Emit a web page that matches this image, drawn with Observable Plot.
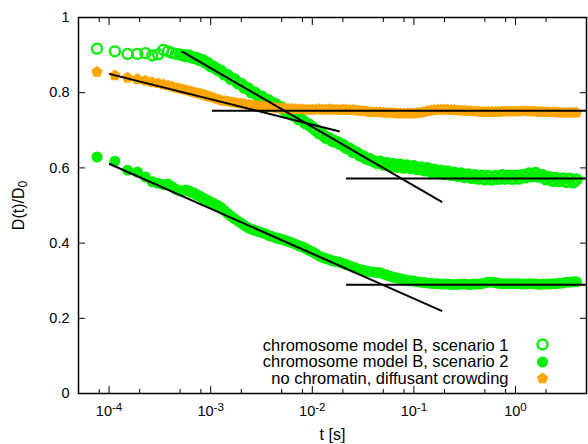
<!DOCTYPE html>
<html><head><meta charset="utf-8">
<script src="https://cdn.jsdelivr.net/npm/d3@7"></script>
<script src="https://cdn.jsdelivr.net/npm/@observablehq/plot@0.6"></script>
<style>body{margin:0;background:#fff}</style>
</head><body><div id="chart"></div>
<script>
// sample times [s]
const T = [
 7.6e-5, 1.14e-4, 1.52e-4, 1.9e-4, 2.28e-4, 2.66e-4, 3.04e-4, 3.42e-4, 3.8e-4, 4.18e-4, 4.56e-4, 4.94e-4,
 5.32e-4, 5.7e-4, 6.08e-4, 6.46e-4, 6.84e-4, 7.22e-4, 7.6e-4, 7.98e-4, 8.36e-4, 8.74e-4, 9.12e-4, 9.5e-4,
 1e-3, 1.08e-3, 1.17e-3, 1.26e-3, 1.36e-3, 1.47e-3, 1.58e-3, 1.71e-3, 1.85e-3, 2e-3, 2.15e-3, 2.33e-3, 2.51e-3, 2.71e-3, 2.93e-3,
 3.16e-3, 3.42e-3, 3.69e-3, 3.98e-3, 4.3e-3, 4.64e-3, 5.01e-3, 5.41e-3, 5.84e-3, 6.31e-3, 6.81e-3, 7.36e-3, 7.94e-3, 8.58e-3, 9.26e-3,
 0.01, 0.0108, 0.0117, 0.0126, 0.0136, 0.0147, 0.0158, 0.0171, 0.0185, 0.02, 0.0215, 0.0233, 0.0251, 0.0271, 0.0293,
 0.0316, 0.0342, 0.0369, 0.0398, 0.043, 0.0464, 0.0501, 0.0541, 0.0584, 0.0631, 0.0681, 0.0736, 0.0794, 0.0858, 0.0926,
 0.1, 0.108, 0.117, 0.126, 0.136, 0.147, 0.158, 0.171, 0.185, 0.2, 0.215, 0.233, 0.251, 0.271, 0.293,
 0.316, 0.342, 0.369, 0.398, 0.43, 0.464, 0.501, 0.541, 0.584, 0.631, 0.681, 0.736, 0.794, 0.858, 0.926,
 1, 1.08, 1.17, 1.26, 1.36, 1.47, 1.58, 1.71, 1.85, 2, 2.15, 2.33, 2.51, 2.71, 2.93, 3.16, 3.42, 3.69, 3.98
];
// chromosome model B, scenario 1 (open circles)
const scenario1 = [
 0.917, 0.910, 0.903, 0.903, 0.905, 0.899, 0.902, 0.914, 0.910, 0.906, 0.903, 0.902,
 0.900, 0.898, 0.899, 0.895, 0.893, 0.892, 0.889, 0.887, 0.886, 0.882, 0.880, 0.877,
 0.871, 0.868, 0.861, 0.858, 0.849, 0.846, 0.837, 0.835, 0.826, 0.823, 0.814, 0.811, 0.802, 0.800, 0.792,
 0.790, 0.782, 0.780, 0.773, 0.770, 0.763, 0.760, 0.753, 0.750, 0.742, 0.738, 0.730, 0.727, 0.719, 0.715,
 0.708, 0.701, 0.693, 0.689, 0.681, 0.678, 0.672, 0.670, 0.665, 0.661, 0.654, 0.651, 0.643, 0.641, 0.634,
 0.631, 0.625, 0.623, 0.618, 0.614, 0.616, 0.609, 0.613, 0.605, 0.610, 0.603, 0.608, 0.601, 0.606, 0.600,
 0.604, 0.597, 0.601, 0.594, 0.599, 0.590, 0.595, 0.587, 0.592, 0.584, 0.590, 0.582, 0.587, 0.579, 0.585,
 0.576, 0.582, 0.574, 0.580, 0.572, 0.579, 0.570, 0.578, 0.569, 0.578, 0.571, 0.580, 0.572, 0.579, 0.571,
 0.579, 0.572, 0.581, 0.575, 0.585, 0.578, 0.586, 0.577, 0.580, 0.570, 0.575, 0.566, 0.573, 0.565, 0.572, 0.563, 0.571, 0.562, 0.569
];
// chromosome model B, scenario 2 (filled circles)
const scenario2 = [
 0.629, 0.618, 0.594, 0.589, 0.576, 0.563, 0.559, 0.556, 0.557, 0.550, 0.543, 0.539,
 0.539, 0.541, 0.539, 0.535, 0.533, 0.529, 0.526, 0.523, 0.520, 0.517, 0.515, 0.512,
 0.509, 0.505, 0.500, 0.495, 0.487, 0.479, 0.472, 0.465, 0.459, 0.453, 0.447, 0.441, 0.437, 0.434, 0.431,
 0.428, 0.425, 0.421, 0.418, 0.415, 0.412, 0.410, 0.407, 0.404, 0.401, 0.397, 0.393, 0.390, 0.386, 0.381,
 0.377, 0.372, 0.366, 0.362, 0.359, 0.356, 0.353, 0.351, 0.349, 0.346, 0.343, 0.340, 0.336, 0.333, 0.330,
 0.328, 0.326, 0.324, 0.323, 0.322, 0.321, 0.318, 0.315, 0.312, 0.309, 0.307, 0.305, 0.303, 0.301, 0.300,
 0.299, 0.297, 0.296, 0.295, 0.294, 0.293, 0.292, 0.292, 0.291, 0.291, 0.291, 0.290, 0.290, 0.290, 0.291,
 0.291, 0.290, 0.290, 0.291, 0.291, 0.292, 0.294, 0.296, 0.296, 0.295, 0.293, 0.292, 0.292, 0.292, 0.292,
 0.292, 0.292, 0.291, 0.291, 0.292, 0.292, 0.291, 0.290, 0.291, 0.291, 0.291, 0.292, 0.292, 0.293, 0.294, 0.296, 0.296, 0.297, 0.297
];
// no chromatin, diffusant crowding (pentagons)
const crowding = [
 0.855, 0.846, 0.840, 0.836, 0.832, 0.828, 0.825, 0.822, 0.819, 0.816, 0.813, 0.811,
 0.809, 0.807, 0.805, 0.803, 0.801, 0.799, 0.798, 0.797, 0.795, 0.794, 0.792, 0.790,
 0.789, 0.786, 0.783, 0.780, 0.778, 0.777, 0.775, 0.774, 0.772, 0.771, 0.770, 0.768, 0.767, 0.766, 0.765,
 0.764, 0.763, 0.762, 0.761, 0.760, 0.759, 0.758, 0.758, 0.757, 0.757, 0.756, 0.756, 0.756, 0.755, 0.755,
 0.755, 0.755, 0.756, 0.755, 0.755, 0.756, 0.755, 0.755, 0.754, 0.755, 0.755, 0.754, 0.754, 0.753, 0.752,
 0.751, 0.750, 0.749, 0.748, 0.748, 0.748, 0.747, 0.747, 0.746, 0.746, 0.745, 0.745, 0.745, 0.745, 0.745,
 0.745, 0.746, 0.747, 0.749, 0.751, 0.753, 0.754, 0.755, 0.755, 0.755, 0.755, 0.754, 0.754, 0.753, 0.752,
 0.752, 0.751, 0.751, 0.750, 0.750, 0.749, 0.749, 0.749, 0.749, 0.749, 0.749, 0.750, 0.750, 0.750, 0.750,
 0.750, 0.750, 0.751, 0.751, 0.750, 0.750, 0.750, 0.749, 0.749, 0.749, 0.748, 0.748, 0.748, 0.747, 0.747, 0.747, 0.747, 0.747, 0.747
];
// power-law and plateau fit lines
const fitT1 = [5.2e-4, 0.0215, 1e-4, 1.03e-3, 1e-4, 0.0215];
const fitD1 = [0.910, 0.572, 0.850, 0.752, 0.611, 0.289];
const fitT2 = [0.19, 5, 0.0186, 5, 0.19, 5];
const fitD2 = [0.509, 0.572, 0.697, 0.752, 0.219, 0.289];

const seriesNames = ["chromosome model B, scenario 1", "chromosome model B, scenario 2", "no chromatin, diffusant crowding"];
const xMajor = [1e-4, 1e-3, 1e-2, 1e-1, 1];
const xMinor = [8e-5, 2e-4, 5e-4, 8e-4, 2e-3, 5e-3, 8e-3, 2e-2, 5e-2, 8e-2, 0.2, 0.5, 0.8, 2];
const yTicks = [0, 0.2, 0.4, 0.6, 0.8, 1];

const GREEN = "#00ee00", ORANGE = "#ffa500";
const rows = T.map((t, i) => ({t, s1: scenario1[i], s2: scenario2[i], c: crowding[i], dense: t > 5e-4}));
const fits = fitT1.map((t, i) => ({t1: t, d1: fitD1[i], t2: fitT2[i], d2: fitD2[i]}));

const pentagon = {draw(ctx, size) {
  const r = Math.sqrt(size / Math.PI);
  for (let i = 0; i < 5; i++) {
    const a = -Math.PI / 2 + i * 2 * Math.PI / 5;
    const px = r * Math.cos(a), py = r * Math.sin(a);
    if (i) ctx.lineTo(px, py); else ctx.moveTo(px, py);
  }
  ctx.closePath();
}};

const legendRow = (i, dy) => Plot.text([seriesNames[i]], {text: d => d, frameAnchor: "bottom-right", lineAnchor: "middle", dx: -78, dy, textAnchor: "end", fontSize: 16.5, fill: "black"});

const chart = Plot.plot({
  width: 588, height: 444,
  marginLeft: 78, marginRight: 2, marginTop: 17, marginBottom: 51,
  style: {fontFamily: "'Liberation Sans', Arial, Helvetica, sans-serif", fontSize: "14.5px", background: "#fff", color: "#000"},
  x: {type: "log", domain: [5e-5, 5]},
  y: {domain: [0, 1]},
  marks: [
    Plot.dot(rows, {filter: d => !d.dense, x: "t", y: "s1", r: 5, fill: "none", stroke: GREEN, strokeWidth: 2.3}),
    Plot.dot(rows, {filter: d => d.dense, x: "t", y: "s1", r: 4.6, fill: "none", stroke: GREEN, strokeWidth: 3.4}),
    Plot.dot(rows, {x: "t", y: "s2", r: 5.5, fill: GREEN}),
    Plot.dot(rows, {x: "t", y: "c", r: 5.9, fill: ORANGE, symbol: pentagon}),
    Plot.link(fits, {x1: "t1", y1: "d1", x2: "t2", y2: "d2", stroke: "black", strokeWidth: 2}),
    Plot.axisX(xMinor, {tickSize: -4, tickFormat: () => "", label: null}),
    Plot.axisX(xMajor, {tickSize: -7, tickPadding: 19, tickFormat: d => String(Math.round(Math.log10(d))), label: "t [s]", labelAnchor: "center", labelArrow: "none", labelOffset: 46}),
    Plot.axisX(xMinor, {anchor: "top", tickSize: -4, tickFormat: () => "", label: null}),
    Plot.axisX(xMajor, {anchor: "top", tickSize: -7, tickFormat: () => "", label: null}),
    Plot.axisY(yTicks, {tickSize: -7, tickPadding: 16, tickFormat: d => String(d), label: "D(t)/D0", labelAnchor: "center", labelArrow: "none", labelOffset: 66}),
    Plot.axisY(yTicks, {anchor: "right", tickSize: -7, tickFormat: () => "", label: null}),
    Plot.frame({stroke: "black", strokeWidth: 1.5}),
    legendRow(0, -48), legendRow(1, -31.5), legendRow(2, -15),
    Plot.dot([0], {frameAnchor: "bottom-right", dx: -44, dy: -49, r: 5, fill: "none", stroke: GREEN, strokeWidth: 2.3}),
    Plot.dot([0], {frameAnchor: "bottom-right", dx: -44, dy: -31.5, r: 5.5, fill: GREEN}),
    Plot.dot([0], {frameAnchor: "bottom-right", dx: -44, dy: -15, r: 5.9, fill: ORANGE, symbol: pentagon})
  ]
});

// superscript exponents on x tick labels
d3.select(chart).selectAll('g[aria-label="x-axis tick label"] text').each(function () {
  const s = this.textContent;
  if (!s) return;
  const t = d3.select(this);
  t.text(null);
  t.append("tspan").text("10");
  t.append("tspan").attr("dy", "-0.45em").attr("font-size", "0.8em").text(s);
});
// subscript on y label
d3.select(chart).selectAll('g[aria-label="y-axis label"] text').each(function () {
  const t = d3.select(this);
  t.attr("font-size", 16);
  t.text(null);
  t.append("tspan").text("D(t)/D");
  t.append("tspan").attr("dy", "0.3em").attr("font-size", "0.75em").text("0");
});
d3.select(chart).selectAll('g[aria-label="x-axis label"] text').attr("font-size", 16);
document.getElementById("chart").appendChild(chart);
</script>
</body></html>
